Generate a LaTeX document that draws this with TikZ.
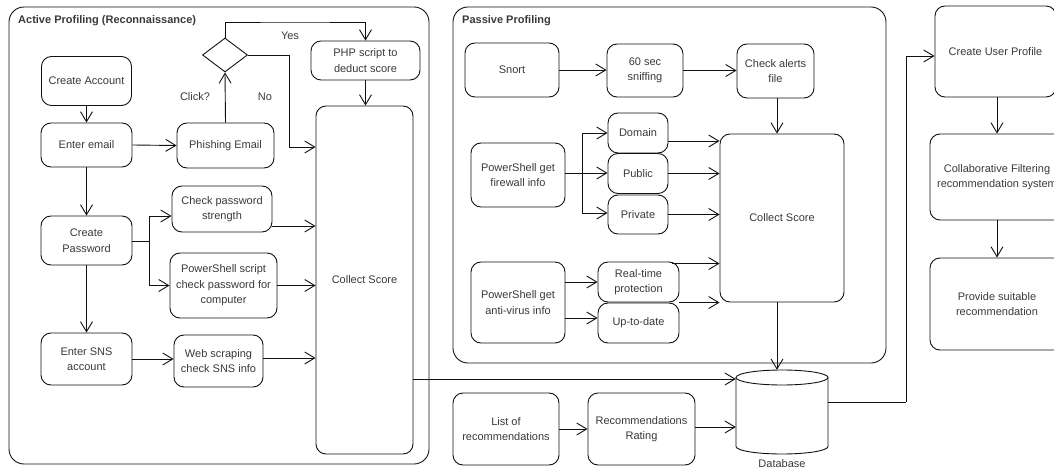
\documentclass[tikz,border=0pt]{standalone}
\usepackage{fontspec}
\setmainfont{Liberation Sans}
\usetikzlibrary{arrows.meta,shapes.geometric,calc}

\definecolor{inkline}{HTML}{111111}
\definecolor{inktext}{HTML}{3A3A3A}

\tikzset{
  base/.style={font=\fontsize{11}{15.5}\selectfont, text=inktext},
  box/.style={base, draw=inkline, line width=0.9pt, rounded corners=10pt,
              align=center, inner sep=0pt, fill=white},
  frame/.style={draw=inkline, line width=0.9pt, rounded corners=15pt},
  framelabel/.style={font=\fontsize{11}{13}\selectfont\bfseries, text=inktext, anchor=west, inner sep=0pt},
  lbl/.style={base, inner sep=0pt},
  arr/.style={draw=inkline, line width=0.9pt, -{Straight Barb[length=10pt,width=12pt]}},
  ln/.style={draw=inkline, line width=0.9pt},
}

\begin{document}
\begin{tikzpicture}[x=1pt,y=-1pt]
\useasboundingbox (0,0) rectangle (1054,470);
\fill[white] (0,0) rectangle (1054,470);
\clip (0,0) rectangle (1054,470);

% ---------- containers ----------
\draw[frame] (9,7) rectangle (429,464);
\node[framelabel] (tact) at (18,21) {Active Profiling (Reconnaissance)};
\draw[frame] (453,7) rectangle (886,363);
\node[framelabel] (tpas) at (462,21) {Passive Profiling};

% ---------- active profiling ----------
\node[box, minimum width=90pt, minimum height=49pt] (ca) at (86.5,81) {Create Account};
\node[box, minimum width=91pt, minimum height=44pt] (ee) at (86.5,145) {Enter email};
\node[box, minimum width=97pt, minimum height=45pt] (pe) at (225.5,145.5) {Phishing Email};
\node[draw=inkline, line width=0.9pt, diamond, minimum width=45pt, minimum height=34pt, inner sep=0pt] (dm) at (225,55) {};
\node[box, minimum width=109pt, minimum height=39pt] (php) at (365.5,60.5) {PHP script to\\deduct score};
\node[box, minimum width=97pt, minimum height=348pt] (cs1) at (364.5,280) {Collect Score};
\node[box, minimum width=100pt, minimum height=46pt] (cps) at (222,209) {Check password\\strength};
\node[box, minimum width=91pt, minimum height=49pt] (cp) at (86.5,240.5) {Create\\Password};
\node[box, minimum width=107pt, minimum height=65pt] (pss) at (223.5,285.5) {PowerShell script\\check password for\\computer};
\node[box, minimum width=91pt, minimum height=52pt] (sns) at (86.5,359) {Enter SNS\\account};
\node[box, minimum width=89pt, minimum height=52pt] (web) at (218.5,361) {Web scraping\\check SNS info};

\node[lbl] (lyes) at (290,36) {Yes};
\node[lbl] (lno) at (265,97) {No};
\node[lbl] (lclick) at (195,97) {Click?};

\coordinate (yesc) at (295,22);
\coordinate (nob) at (289,147);
\coordinate (sp1) at (149,241);
\path ($(cps.west)+(0,7)$) coordinate (cpsin)
      ($(cps.east)+(0,17)$) coordinate (cpsout)
      ($(web.east)+(0,-3)$) coordinate (webout)
      ($(cs1.east)+(0,99)$) coordinate (cs1out);

\draw[arr] (ca.south) -- (ee.north);
\draw[arr] (ee.east) -- (pe.west);
\draw[arr] (ee.south) -- (cp.north);
\draw[arr] (pe.north) -- (dm.south);
\draw[arr] (dm.north) |- (yesc) -| (php.north);
\draw[arr] (dm.east) -| (nob) -- (nob -| cs1.west);
\draw[arr] (php.south) -- (php.south |- cs1.north);
\draw[ln] (cp.east |- sp1) -- (sp1);
\draw[arr] (sp1) |- (cpsin);
\draw[arr] (sp1) |- (pss.west);
\draw[arr] (cpsout) -- (cpsout -| cs1.west);
\draw[arr] (pss.east) -- (pss.east -| cs1.west);
\draw[arr] (cp.south) -- (sns.north);
\draw[arr] (sns.east) -- (sns.east -| web.west);
\draw[arr] (webout) -- (webout -| cs1.west);

% ---------- passive profiling ----------
\node[box, minimum width=94pt, minimum height=54pt] (snort) at (512,70) {Snort};
\node[box, minimum width=76pt, minimum height=53pt] (sniff) at (645,70.5) {60 sec\\sniffing};
\node[box, minimum width=77pt, minimum height=54pt] (alerts) at (775.5,71) {Check alerts\\file};
\node[box, minimum width=60pt, minimum height=40pt] (dom) at (638,133) {Domain};
\node[box, minimum width=60pt, minimum height=40pt] (pub) at (638,173.5) {Public};
\node[box, minimum width=60pt, minimum height=39pt] (pri) at (638,214.5) {Private};
\node[box, minimum width=94pt, minimum height=64pt] (fw) at (518,175) {PowerShell get\\firewall info};
\node[box, minimum width=124pt, minimum height=168pt] (cs2) at (782,218) {Collect Score};
\node[box, minimum width=94pt, minimum height=81pt] (av) at (518,302.5) {PowerShell get\\anti-virus info};
\node[box, minimum width=81pt, minimum height=40pt] (rt) at (638.5,282) {Real-time\\protection};
\node[box, minimum width=81pt, minimum height=40pt] (utd) at (638.5,323) {Up-to-date};

\coordinate (sp2) at (582,173);
\path ($(alerts.south)+(1.5,0)$) coordinate (alout)
      ($(pri.west)+(0,-1.5)$) coordinate (priin)
      ($(dom.east)+(0,8)$) coordinate (domout)
      ($(av.east)+(0,-20.5)$) coordinate (avout1)
      ($(av.east)+(0,15.5)$) coordinate (avout2)
      ($(rt.north east)+(-7,2)$) coordinate (rtout)
      ($(cs2.south)+(-5,0)$) coordinate (cs2out);

\draw[arr] (snort.east) -- (snort.east -| sniff.west);
\draw[arr] (sniff.east) -- (sniff.east -| alerts.west);
\draw[arr] (alout) -- (alout |- cs2.north);
\draw[ln] (fw.east |- sp2) -- (sp2);
\draw[arr] (sp2) |- (dom.west);
\draw[arr] (sp2) -- (sp2 -| pub.west);
\draw[arr] (sp2) |- (priin);
\draw[arr] (domout) -- (domout -| cs2.west);
\draw[arr] (pub.east) -- (pub.east -| cs2.west);
\draw[arr] (pri.east) -- (pri.east -| cs2.west);
\draw[arr] (avout1) -- (avout1 -| rt.west);
\draw[arr] (avout2) -- (avout2 -| utd.west);
\draw[arr] (rtout) -- (rtout -| cs2.west);
\draw[arr] (utd.north east) -- (utd.north east -| cs2.west);

% ---------- database and ratings ----------
\node[box, minimum width=106pt, minimum height=72pt] (list) at (506,429) {List of\\recommendations};
\node[box, minimum width=107pt, minimum height=72pt] (rate) at (641.5,429) {Recommendations\\Rating};

\node[inner sep=0pt, minimum width=92pt, minimum height=84pt] (db) at (782,412) {};
\fill[white] (736,377.5) -- (736,446.5) arc[start angle=180, end angle=360, x radius=46, y radius=-7.5]
  -- (828,377.5) -- cycle;
\draw[ln] (736,377.5) -- (736,446.5) arc[start angle=180, end angle=360, x radius=46, y radius=-7.5] -- (828,377.5);
\draw[ln, fill=white] (782,377.5) ellipse[x radius=46, y radius=7.5];
\node[lbl] (dblabel) at (782,464) {Database};

\path ($(rate.east)+(0,-2)$) coordinate (rateout)
      ($(db.east)+(0,-10)$) coordinate (dbout);

\draw[arr] (cs2out) -- (cs2out |- db.north);
\draw[arr] (list.east) -- (list.east -| rate.west);
\draw[arr] (rateout) -- (rateout -| db.west);
\draw[arr] (cs1out) -- (cs1out -| db.west);

% ---------- recommendation ----------
\node[box, minimum width=121pt, minimum height=91pt] (cup) at (995.5,51.5) {Create User Profile};
\node[box, minimum width=134pt, minimum height=86pt] (cf) at (997,177) {Collaborative Filtering\\recommendation system};
\node[box, minimum width=134pt, minimum height=92pt] (psr) at (997,304) {Provide suitable\\recommendation};

\coordinate (rb) at (906,402);
\path ($(cup.west)+(0,4.5)$) coordinate (cupin);
\draw[ln] (dbout) -- (rb);
\draw[arr] (rb) |- (cupin);
\draw[arr] (cf.north |- cup.south) -- (cf.north);
\draw[arr] (cf.south) -- (psr.north);
\end{tikzpicture}
\end{document}
